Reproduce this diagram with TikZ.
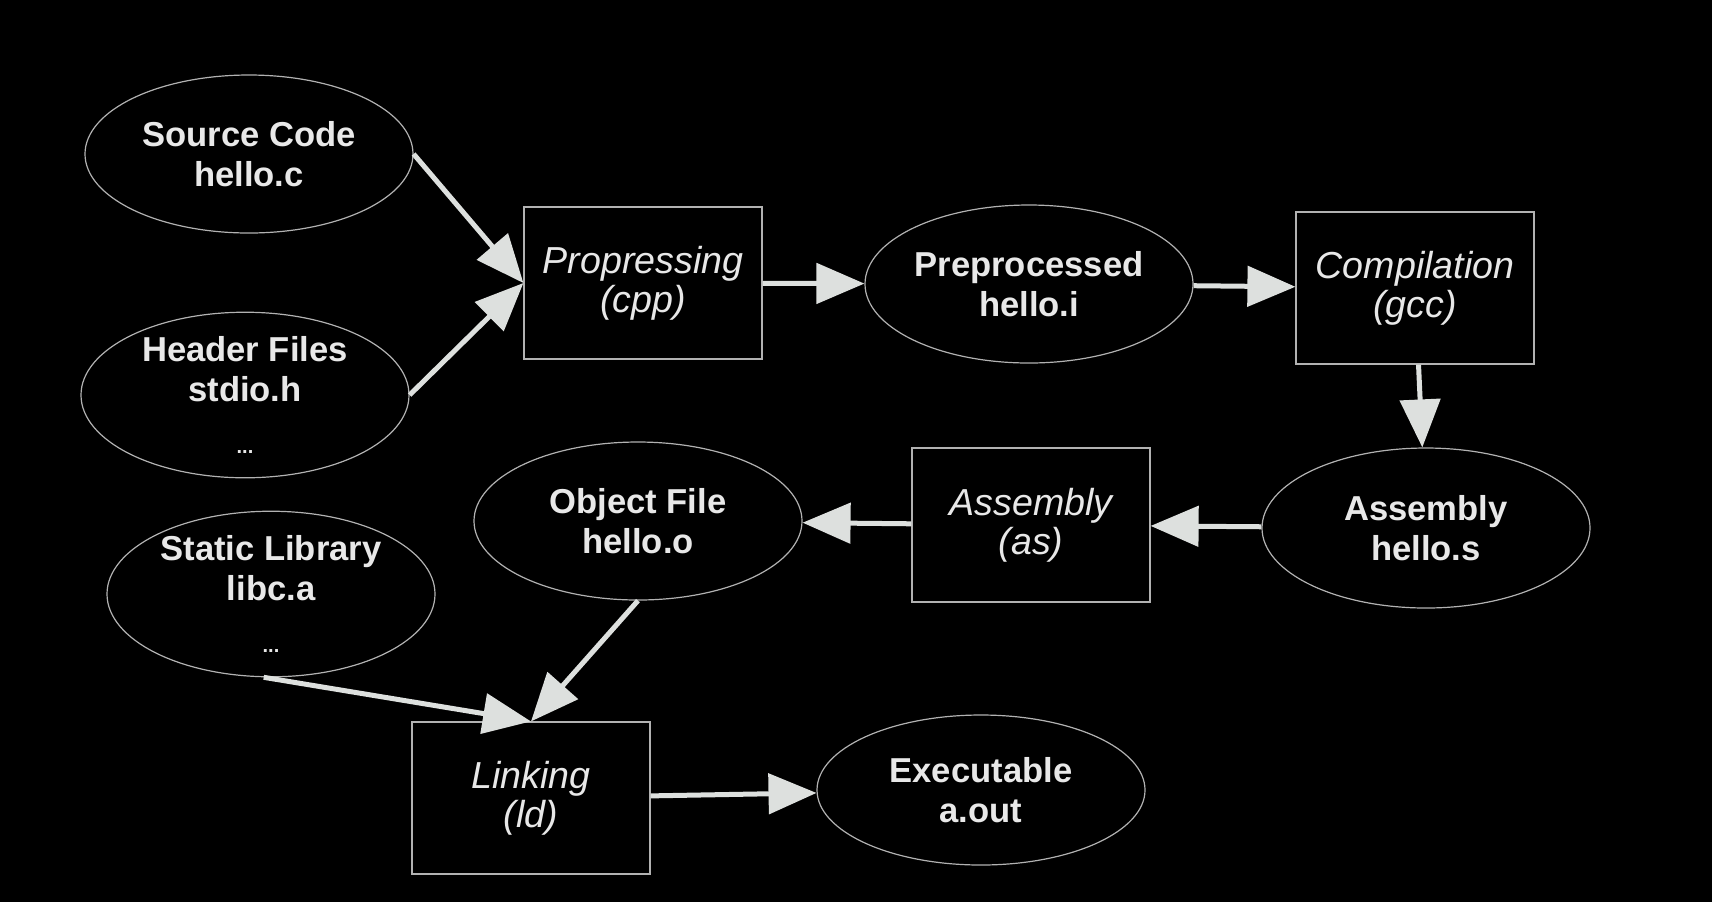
\documentclass[tikz,border=0pt]{standalone}
\usepackage{fontspec}
\setmainfont{Liberation Sans}
\usetikzlibrary{arrows.meta,shapes.geometric}
\definecolor{inkgrey}{RGB}{178,178,178}
\definecolor{arrowgrey}{RGB}{221,224,222}
\definecolor{labelgrey}{RGB}{232,232,232}
\newcommand{\moredots}{\\[6pt]{\fontsize{10}{12}\selectfont ...}}

\begin{document}
\begin{tikzpicture}[x=0.5pt,y=-0.5pt,
  file/.style={ellipse,draw=inkgrey,line width=0.6pt,inner sep=0pt,
               minimum width=164pt,minimum height=79pt,align=center,text=labelgrey,
               font=\fontsize{17.3}{20}\selectfont\bfseries},
  stage/.style={rectangle,draw=inkgrey,line width=0.6pt,inner sep=2pt,
                minimum width=119pt,minimum height=76pt,align=center,text=labelgrey,
                font=\fontsize{18.8}{19.5}\selectfont\itshape},
  ar/.style={-{Triangle[length=24pt,width=20pt]},arrowgrey,line width=2.5pt}]

% black page, same proportions as the original
\fill[black] (0,0) rectangle (1712,902);

\node[file] (src) at (249,154) {Source Code\\hello.c};
\node[file,minimum height=80pt] (hdr) at (245,395) {Header Files\\stdio.h\moredots};
\node[stage] (cpp) at (643,283) {Propressing\\(cpp)};
\node[file] (pre) at (1029,284) {Preprocessed\\hello.i};
\node[stage] (gcc) at (1415,288) {Compilation\\(gcc)};
\node[file,minimum height=80pt] (asms) at (1426,528) {Assembly\\hello.s};
\node[stage,minimum height=77pt] (asb) at (1031,525) {Assembly\\(as)};
\node[file] (obj) at (638,521) {Object File\\hello.o};
\node[file,minimum height=80pt] (lib) at (271,594) {Static Library\\libc.a\moredots};
\node[stage] (lnk) at (531,798) {Linking\\(ld)};
\node[file,minimum height=75pt] (exe) at (981,790) {Executable\\a.out};

\draw[ar] (src.east) -- (cpp.west);
\draw[ar] (hdr.east) -- (cpp.west);
\foreach \a/\b in {cpp/pre,pre/gcc,gcc/asms,asms/asb,asb/obj,lnk/exe} \draw[ar] (\a) -- (\b);
\draw[ar] (obj.south) -- (lnk.north);
\draw[ar] (lib.-95) -- (lnk.north);
\end{tikzpicture}
\end{document}
